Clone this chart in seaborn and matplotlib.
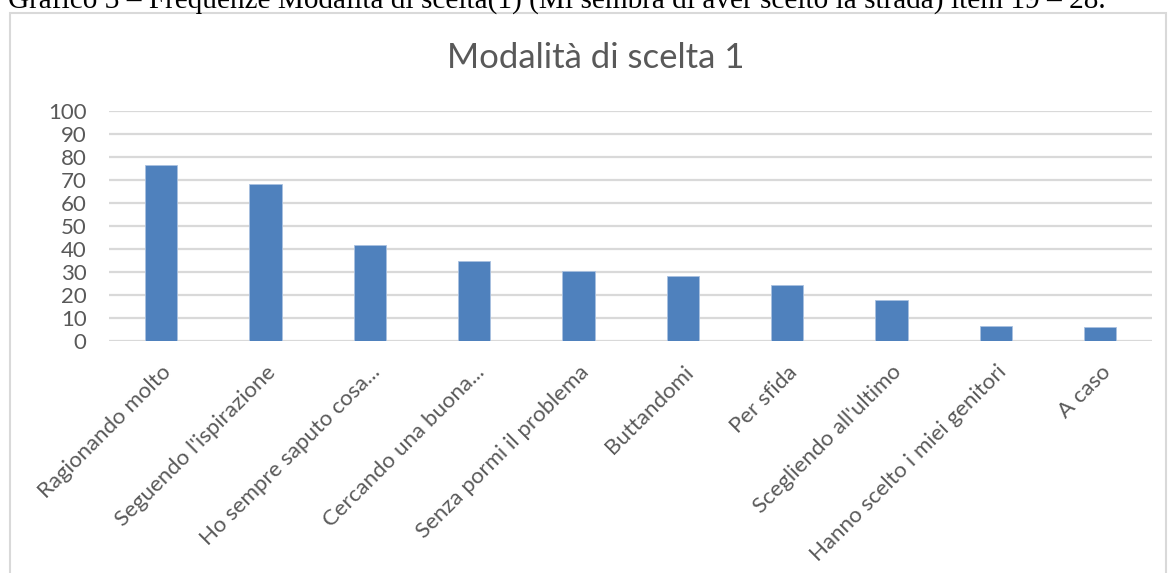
import numpy as np
import pandas as pd
import seaborn as sns
import matplotlib.pyplot as plt
from matplotlib.patches import Rectangle

# Values
categories = [
    "Ragionando molto", "Seguendo l'ispirazione", "Ho sempre saputo cosa...",
    "Cercando una buona...", "Senza pormi il problema", "Buttandomi",
    "Per sfida", "Scegliendo all'ultimo", "Hanno scelto i miei genitori", "A caso",
]
values = [76.4, 68.4, 41.8, 34.8, 30.4, 28.4, 24.3, 17.9, 6.4, 6.0]
yticks = list(range(0, 101, 10))

caption = ("Grafico 3 \u2013 Frequenze Modalità di scelta(1) (Mi sembra di aver scelto la strada) "
           "item 19 \u2013 28.")
title = "Modalità di scelta 1"

BAR = "#4f81bd"
TXT = "#595959"
GRID = "#d9d9d9"

sns.set_style("white")
plt.rcParams['font.family'] = ['Lato', 'DejaVu Sans']

df = pd.DataFrame({"cat": categories, "val": values})

fig = plt.figure(figsize=(11.7, 5.73), dpi=100)
ax = fig.add_axes([0.093, 0.405, 0.892, 0.4015])

sns.barplot(data=df, x="cat", y="val", color=BAR, width=0.31, saturation=1,
            edgecolor="#a9c1e0", linewidth=0.6, ax=ax, zorder=3)

ax.set_ylim(0, 100)
ax.set_xlim(-0.5, len(categories) - 0.5)
ax.set_yticks(yticks)
ax.set_yticklabels([str(t) for t in yticks], fontsize=16, color=TXT)
ax.set_xticks(range(len(categories)))
ax.set_xticklabels(categories, fontsize=16, color=TXT, rotation=45,
                   ha="right", va="top", rotation_mode="anchor")
ax.tick_params(axis="both", length=0)
ax.tick_params(axis="x", pad=15)
ax.tick_params(axis="y", pad=16)
ax.yaxis.grid(True, color=GRID, linewidth=1.6, zorder=0)
ax.set_axisbelow(True)
for s in ax.spines.values():
    s.set_visible(False)
ax.set_xlabel("")
ax.set_ylabel("")

# chart title
fig.text(0.509, 0.898, title, ha="center", va="center", fontsize=25, color=TXT)

# chart frame
fig.patches.append(Rectangle((10 / 1170, -0.05), 1156 / 1170, 1 - 13 / 573 + 0.05,
                             transform=fig.transFigure, fill=False,
                             edgecolor=GRID, linewidth=1.5))

# document caption, cut by the top edge as in the source page
fig.text(8 / 1170, 1 - 8 / 573, caption, ha="left", va="baseline", fontsize=21.1,
         family=["Liberation Serif", "DejaVu Serif"], color="black")

fig.savefig("out.png", dpi=100)
